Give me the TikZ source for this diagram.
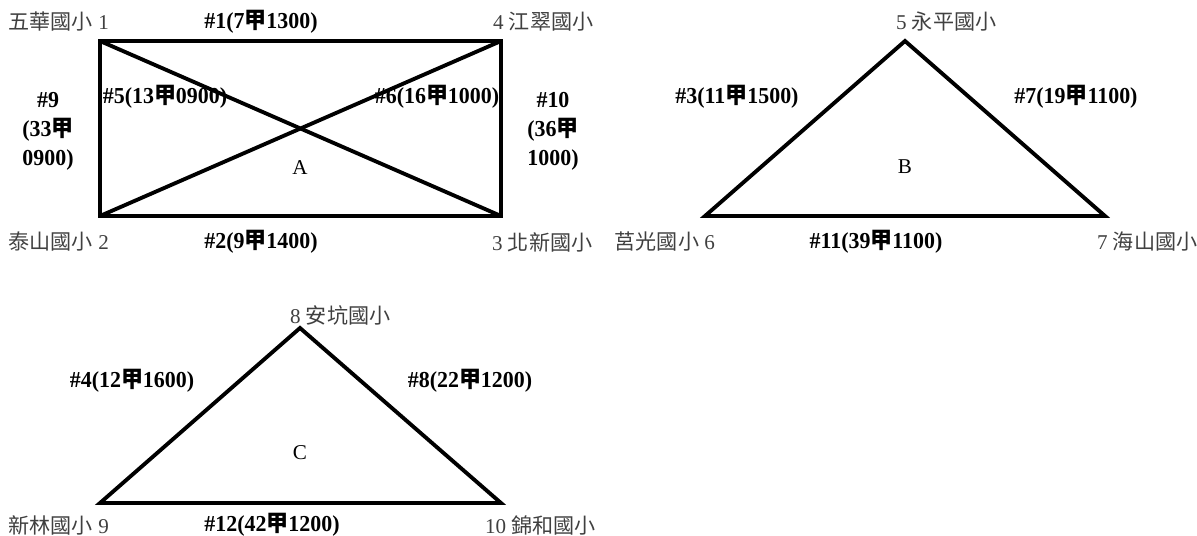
\documentclass[tikz,border=0pt]{standalone}
\usepackage{fontspec}
\setmainfont{Liberation Serif}
\newfontfamily\cjk{Noto Sans CJK TC}
\newfontfamily\roadfont{Liberation Serif}[FakeStretch=0.96]
\newfontfamily\roadcjk{Noto Sans CJK TC}[FakeStretch=0.96]
\newcommand{\jia}{{\roadcjk 甲}}
\usetikzlibrary{positioning}
\tikzset{
  school/.style={text=black!75, font=\fontsize{12}{14}\selectfont, inner sep=1pt},
  road/.style={font=\fontsize{13}{16.5}\selectfont\roadfont\bfseries, inner sep=1pt, align=center},
  zone/.style={font=\fontsize{12}{14}\selectfont, inner sep=1pt},
  edge/.style={line width=2.2pt, line join=miter}
}
\begin{document}
\begin{tikzpicture}[x=0.02cm, y=-0.02cm]
        \useasboundingbox (0,0) rectangle (1197,535);
        % area A
        \coordinate (LT) at (100,41);
        \coordinate (RT) at (501,41);
        \coordinate (LB) at (100,216);
        \coordinate (RB) at (501,216);
        \draw [edge] (LT) -- (RT) -- (RB) -- (LB) -- cycle;
        \draw [edge] (LT) -- (RB);
        \draw [edge] (LB) -- (RT);
        \node [school, anchor=east] (s1) at (111,22) {{\cjk 五華國小} 1};
        \node [school, anchor=west] (s4) at (491,22) {4 {\cjk 江翠國小}};
        \node [school, anchor=east] (s2) at (111,242) {{\cjk 泰山國小} 2};
        \node [school, anchor=west] (s3) at (490,242) {3 {\cjk 北新國小}};
        \node [road] (r1) at (261,22) {\#1(7\jia1300)};
        \node [road] (r2) at (261,242) {\#2(9\jia1400)};
        \node [road] (r5) at (165,97) {\#5(13\jia0900)};
        \node [road] (r6) at (437,97) {\#6(16\jia1000)};
        \node [road] (r9) at (48,131) {\#9\\(33\jia\\0900)};
        \node [road] (r10) at (553,131) {\#10\\(36\jia\\1000)};
        \node [zone] (A) at (300,168) {A};
        % area B
        \coordinate (BT) at (905,41);
        \coordinate (BL) at (705,216);
        \coordinate (BR) at (1105,216);
        \draw [edge] (BT) -- (BR) -- (BL) -- cycle;
        \node [school, anchor=west] (s5) at (894,22) {5 {\cjk 永平國小}};
        \node [school, anchor=east] (s6) at (717,242) {{\cjk 莒光國小} 6};
        \node [school, anchor=west] (s7) at (1095,242) {7 {\cjk 海山國小}};
        \node [road] (r3) at (737,97) {\#3(11\jia1500)};
        \node [road] (r7) at (1076,97) {\#7(19\jia1100)};
        \node [road] (r11) at (876,242) {\#11(39\jia1100)};
        \node [zone] (B) at (905,167) {B};
        % area C
        \coordinate (CT) at (300,328);
        \coordinate (CL) at (100,503);
        \coordinate (CR) at (501,503);
        \draw [edge] (CT) -- (CR) -- (CL) -- cycle;
        \node [school, anchor=west] (s8) at (288,315) {8 {\cjk 安坑國小}};
        \node [school, anchor=east] (s9) at (111,525) {{\cjk 新林國小} 9};
        \node [school, anchor=west] (s10) at (483,525) {10 {\cjk 錦和國小}};
        \node [road] (r4) at (132,381) {\#4(12\jia1600)};
        \node [road] (r8) at (470,381) {\#8(22\jia1200)};
        \node [road] (r12) at (272,525) {\#12(42\jia1200)};
        \node [zone] (C) at (300,453) {C};
\end{tikzpicture}
\end{document}
